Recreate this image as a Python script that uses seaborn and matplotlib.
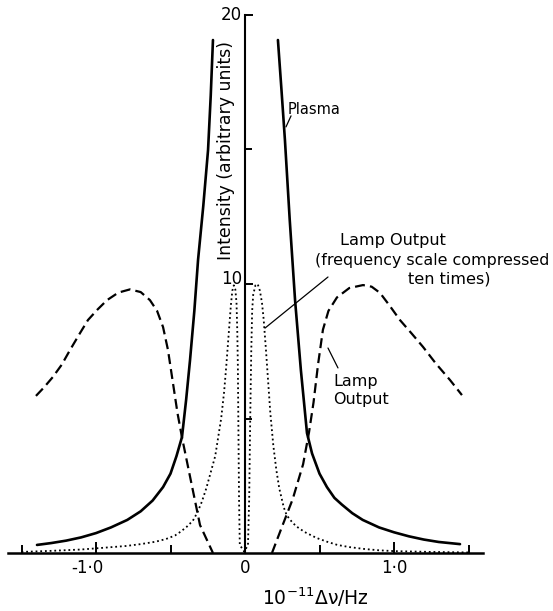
import numpy as np
import pandas as pd
import matplotlib
matplotlib.use("Agg")
import matplotlib.pyplot as plt
import matplotlib.transforms as mtransforms
import seaborn as sns

# ---- data ----
plasma_left_x = [-1.396, -1.3, -1.2, -1.1, -1.0, -0.9, -0.79, -0.7, -0.62, -0.55, -0.5, -0.46,
                 -0.423, -0.395, -0.369, -0.34, -0.315, -0.28, -0.248, -0.23, -0.215]
plasma_left_y = [0.30, 0.37, 0.46, 0.58, 0.74, 0.95, 1.23, 1.55, 1.95, 2.45, 2.95, 3.6,
                 4.31, 5.7, 7.17, 9.0, 10.9, 12.9, 14.98, 17.0, 19.07]
plasma_right_x = [0.221, 0.245, 0.268, 0.30, 0.336, 0.375, 0.416, 0.45, 0.5, 0.55, 0.6, 0.65,
                  0.72, 0.79, 0.9, 1.0, 1.1, 1.2, 1.3, 1.443]
plasma_right_y = [19.07, 17.2, 15.35, 12.4, 9.4, 6.8, 4.46, 3.7, 2.95, 2.45, 2.05, 1.8,
                  1.48, 1.23, 0.95, 0.77, 0.62, 0.5, 0.41, 0.33]

lamp_left_x = [-1.403, -1.35, -1.29, -1.23, -1.174, -1.11, -1.054, -0.99, -0.926, -0.85, -0.772,
               -0.7, -0.638, -0.59, -0.55, -0.517, -0.483, -0.453, -0.423, -0.36, -0.302, -0.215]
lamp_left_y = [5.84, 6.15, 6.54, 7.0, 7.55, 8.15, 8.66, 9.05, 9.4, 9.68, 9.8,
               9.7, 9.4, 9.0, 8.4, 7.55, 6.3, 5.2, 4.3, 2.6, 1.04, 0.0]
lamp_right_x = [0.181, 0.25, 0.32, 0.39, 0.43, 0.46, 0.49, 0.523, 0.56, 0.617, 0.7, 0.792,
                0.85, 0.906, 0.97, 1.04, 1.12, 1.195, 1.28, 1.376, 1.456]
lamp_right_y = [0.0, 1.0, 2.0, 3.3, 4.5, 5.6, 7.0, 8.3, 9.0, 9.5, 9.85, 9.96,
                9.9, 9.67, 9.2, 8.66, 8.15, 7.66, 7.05, 6.43, 5.87]

comp_x = [-1.5, -1.3, -1.1, -0.96, -0.8, -0.7, -0.6, -0.53, -0.47, -0.43, -0.39, -0.35, -0.32,
          -0.29, -0.26, -0.23, -0.2, -0.18, -0.16, -0.14, -0.125, -0.11, -0.095, -0.085, -0.075,
          -0.065, -0.057, -0.052, -0.048, -0.044, -0.04, -0.035, -0.005, 0.02, 0.028, 0.035,
          0.042, 0.048, 0.055, 0.07, 0.085, 0.1, 0.114, 0.125, 0.14, 0.155, 0.17, 0.19, 0.21,
          0.23, 0.26, 0.28, 0.32, 0.35, 0.4, 0.48, 0.55, 0.62, 0.7, 0.8, 0.9, 1.0, 1.25, 1.5]
comp_y = [0.04, 0.08, 0.13, 0.19, 0.26, 0.33, 0.42, 0.52, 0.65, 0.8, 0.98, 1.2, 1.5,
          1.9, 2.4, 3.0, 3.6, 4.3, 5.0, 6.0, 7.0, 8.1, 9.2, 9.75, 9.95,
          9.8, 9.3, 8.3, 7.0, 4.5, 2.0, 0.3, 0.05, 0.3, 2.0, 5.0,
          7.5, 9.0, 9.6, 9.95, 10.0, 9.75, 9.3, 8.7, 7.6, 6.4, 5.2, 4.0, 3.1,
          2.4, 1.7, 1.4, 1.12, 0.97, 0.78, 0.56, 0.42, 0.3, 0.22, 0.15, 0.1, 0.07, 0.04, 0.02]

x_major_ticks = [-1.0, 0.0, 1.0]
x_major_labels = ["-1·0", "0", "1·0"]
x_minor_ticks = [-1.5, -0.5, 0.5, 1.5]
y_major_ticks = [10, 20]
y_major_labels = ["10", "20"]
y_minor_ticks = [5, 15]

# ---- figure ----
sns.set_style("ticks")
plt.rcParams["font.family"] = ["DejaVu Sans"]
plt.rcParams["text.color"] = "black"
plt.rcParams["xtick.color"] = "black"
plt.rcParams["ytick.color"] = "black"
plt.rcParams["axes.edgecolor"] = "black"

W, H = 553, 611
fig = plt.figure(figsize=(W / 100, H / 100), dpi=100)
ax = fig.add_axes([8 / W, (H - 553) / H, 475 / W, (553 - 15) / H])
ax.set_xlim((8 - 245) / 149, (483 - 245) / 149)
ax.set_ylim(0, 20)
ax.patch.set_alpha(0)

k = "black"
sns.lineplot(x=plasma_left_x, y=plasma_left_y, ax=ax, color=k, linewidth=1.9, sort=False, estimator=None)
sns.lineplot(x=plasma_right_x, y=plasma_right_y, ax=ax, color=k, linewidth=1.9, sort=False, estimator=None)
sns.lineplot(x=lamp_left_x, y=lamp_left_y, ax=ax, color=k, linewidth=1.6, sort=False, estimator=None,
             linestyle=(0, (4.5, 2.3)))
sns.lineplot(x=lamp_right_x, y=lamp_right_y, ax=ax, color=k, linewidth=1.6, sort=False, estimator=None,
             linestyle=(0, (4.5, 2.3)))
sns.lineplot(x=comp_x, y=comp_y, ax=ax, color=k, linewidth=1.3, sort=False, estimator=None,
             linestyle=(0, (1, 1.6)))

# spines
ax.spines["top"].set_visible(False)
ax.spines["right"].set_visible(False)
ax.spines["left"].set_position(("data", 0))
ax.spines["left"].set_bounds(0, 20)
ax.spines["left"].set_linewidth(1.5)
ax.spines["bottom"].set_linewidth(1.8)

ax.set_xticks(x_major_ticks)
ax.set_xticklabels(x_major_labels)
ax.set_xticks(x_minor_ticks, minor=True)
ax.set_yticks(y_major_ticks)
ax.set_yticklabels(y_major_labels)
ax.set_yticks(y_minor_ticks, minor=True)
ax.tick_params(axis="x", which="major", direction="in", length=8, width=1.4, labelsize=12, pad=4)
ax.tick_params(axis="x", which="minor", direction="in", length=5.5, width=1.4)
ax.tick_params(axis="y", which="major", direction="in", length=6, width=1.4, labelsize=12, pad=2)
ax.tick_params(axis="y", which="minor", direction="in", length=5, width=1.4)
for lab in ax.get_yticklabels():
    lab.set_verticalalignment("center")
# small label offsets as in the reference
xl = ax.get_xticklabels()
xl[0].set_transform(xl[0].get_transform() + mtransforms.ScaledTranslation(-0.09, 0, fig.dpi_scale_trans))
yl = ax.get_yticklabels()
yl[0].set_transform(yl[0].get_transform() + mtransforms.ScaledTranslation(0, 0.05, fig.dpi_scale_trans))

# axis labels
ax.set_xlabel("")
ax.set_ylabel("")
ax.text(-0.128, 14.98, "Intensity (arbitrary units)", rotation=90, ha="center", va="center", fontsize=12.5)
fig.text(315 / W, 1 - 597 / H, r"$10^{-11}\Delta\mathrm{\nu}$/Hz", ha="center", va="center", fontsize=13.5)

# annotations
ax.text(0.289, 16.47, "Plasma", ha="left", va="center", fontsize=10.5)
ax.annotate("", xy=(0.275, 15.84), xytext=(0.309, 16.25),
            arrowprops=dict(arrowstyle="-", lw=0.9, color=k, shrinkA=0, shrinkB=0))

ax.text(0.638, 11.6, "Lamp Output", ha="left", va="center", fontsize=11.6)
ax.text(0.47, 10.89, "(frequency scale compressed", ha="left", va="center", fontsize=11.4)
ax.text(1.094, 10.19, "ten times)", ha="left", va="center", fontsize=11.6)
ax.annotate("", xy=(0.134, 8.36), xytext=(0.557, 10.26),
            arrowprops=dict(arrowstyle="-", lw=0.9, color=k, shrinkA=0, shrinkB=0))

ax.text(0.59, 6.39, "Lamp", ha="left", va="center", fontsize=11.5)
ax.text(0.59, 5.69, "Output", ha="left", va="center", fontsize=11.5)
ax.annotate("", xy=(0.557, 7.62), xytext=(0.624, 6.88),
            arrowprops=dict(arrowstyle="-", lw=0.9, color=k, shrinkA=0, shrinkB=0))

fig.savefig("out.png", dpi=100)
